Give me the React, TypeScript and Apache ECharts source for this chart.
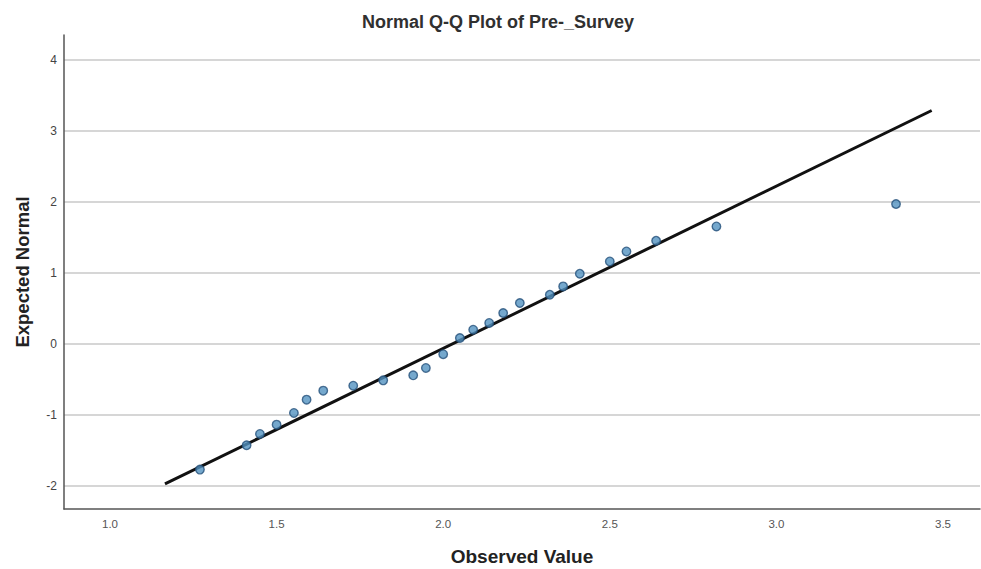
import React, { useEffect, useRef } from "react";
import * as echarts from "echarts";

// Observed survey scores and their expected normal quantiles
const observedValues = [
  1.27, 1.41, 1.45, 1.5, 1.552, 1.59, 1.64, 1.73, 1.82, 1.91, 1.948, 2.0, 2.05,
  2.09, 2.138, 2.18, 2.23, 2.32, 2.36, 2.41, 2.5, 2.55, 2.639, 2.82, 3.359,
];
const expectedNormal = [
  -1.775, -1.432, -1.272, -1.141, -0.976, -0.789, -0.662, -0.592, -0.517, -0.446,
  -0.342, -0.148, 0.08, 0.197, 0.292, 0.432, 0.573, 0.69, 0.807, 0.986, 1.159,
  1.3, 1.451, 1.652, 1.968,
];

// Reference line endpoints (observed, expected)
const refLineX = [1.165, 3.466];
const refLineY = [-1.976, 3.286];

const xRange = [0.862, 3.611];
const yRange = [-2.33, 4.35];

const titleText = "Normal Q-Q Plot of Pre-_Survey";
const xTitle = "Observed Value";
const yTitle = "Expected Normal";

const FONT = "'Liberation Sans', Arial, Helvetica, sans-serif";

export default function App() {
  const ref = useRef<HTMLDivElement>(null);

  useEffect(() => {
    if (!ref.current) return;
    const chart = echarts.init(ref.current, null, { renderer: "svg" });

    const points = observedValues.map((v, i) => [v, expectedNormal[i]]);
    const linePts = refLineX.map((v, i) => [v, refLineY[i]]);

    chart.setOption({
      animation: false,
      backgroundColor: "#ffffff",
      title: {
        text: titleText,
        left: 357,
        top: 8,
        textStyle: {
          fontFamily: FONT,
          fontSize: 18,
          fontWeight: "bold",
          color: "#303030",
        },
      },
      grid: {
        left: 64,
        right: 1,
        top: 35,
        bottom: 60,
        containLabel: false,
        outerBoundsMode: "none",
      },
      xAxis: {
        type: "value",
        min: xRange[0],
        max: xRange[1],
        minInterval: 0.5,
        maxInterval: 0.5,
        name: xTitle,
        nameLocation: "middle",
        nameGap: 38,
        nameTextStyle: {
          fontFamily: FONT,
          fontSize: 19,
          fontWeight: "bold",
          color: "#222222",
        },
        axisLine: { show: true, onZero: false, lineStyle: { color: "#555555", width: 1.5 } },
        axisTick: { show: false },
        splitLine: { show: false },
        axisLabel: {
          showMinLabel: false,
          showMaxLabel: false,
          margin: 9,
          fontFamily: FONT,
          fontSize: 11.5,
          color: "#555555",
          formatter: (v: number) => v.toFixed(1),
        },
      },
      yAxis: {
        type: "value",
        min: yRange[0],
        max: yRange[1],
        minInterval: 1,
        maxInterval: 1,
        name: yTitle,
        nameLocation: "middle",
        nameRotate: 90,
        nameGap: 32,
        nameTextStyle: {
          fontFamily: FONT,
          fontSize: 18.5,
          fontWeight: "bold",
          color: "#222222",
        },
        axisLine: { show: true, onZero: false, lineStyle: { color: "#555555", width: 1.5 } },
        axisTick: { show: false },
        splitLine: {
          show: true,
          showMinLine: false,
          showMaxLine: false,
          lineStyle: { color: "#d6d6d6", width: 2 },
        },
        axisLabel: {
          showMinLabel: false,
          showMaxLabel: false,
          margin: 7,
          fontFamily: FONT,
          fontSize: 12,
          color: "#444444",
          formatter: (v: number) => String(Math.round(v)),
        },
      },
      series: [
        {
          type: "line",
          data: linePts,
          symbol: "none",
          lineStyle: { color: "#111111", width: 3 },
          z: 3,
        },
        {
          type: "scatter",
          data: points,
          symbol: "circle",
          symbolSize: 8.5,
          itemStyle: {
            color: "#5292c0",
            borderColor: "#24507a",
            borderWidth: 1.4,
          },
          z: 4,
        },
      ],
    });

    return () => chart.dispose();
  }, []);

  return (
    <div
      ref={ref}
      style={{ position: "fixed", left: 0, top: 0, width: 981, height: 569 }}
    />
  );
}
